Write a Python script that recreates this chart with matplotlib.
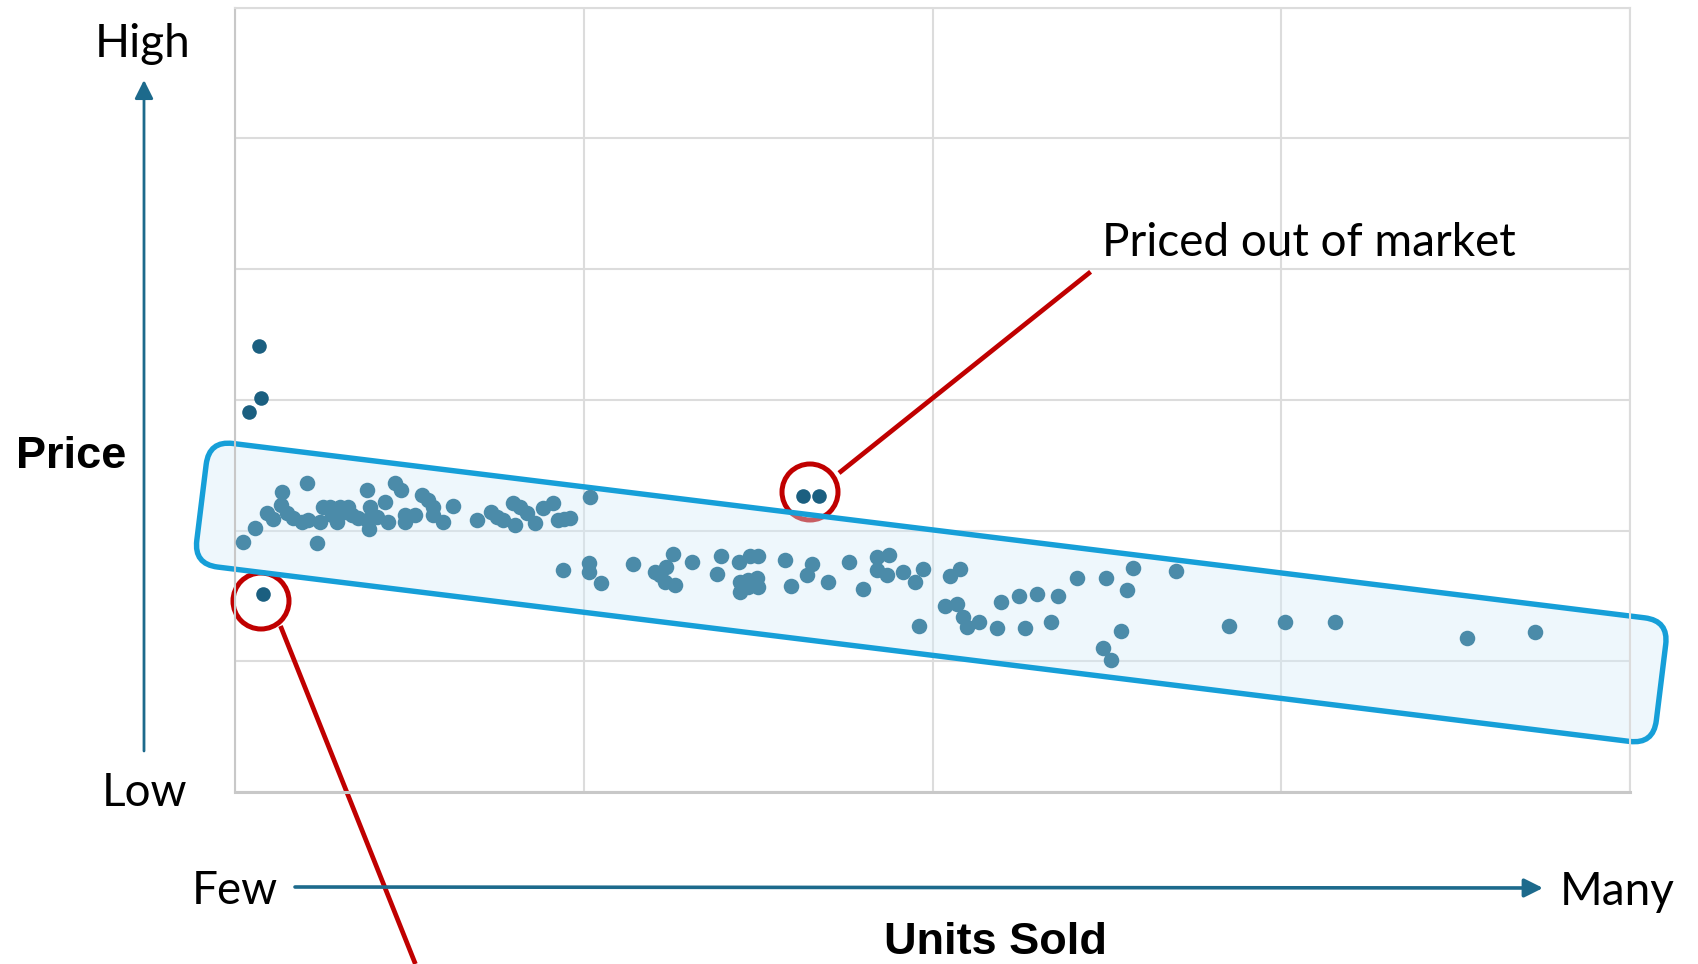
import matplotlib.pyplot as plt
from matplotlib.patches import FancyBboxPatch, Circle
from matplotlib.transforms import Affine2D

# units sold (0-100) and price (0-60)
units = [0.55, 1.43, 2.26, 2.69, 3.37, 3.30, 3.71, 4.18, 4.78, 5.14, 5.25, 5.86, 6.09, 6.33,
         6.81, 6.93, 7.29, 7.53, 7.88, 8.12, 8.37, 8.84, 9.44, 9.44, 9.68, 9.61, 10.16, 10.75,
         10.97, 11.47, 11.90, 12.19, 12.19, 12.90, 13.40, 13.80, 14.19, 14.21, 14.93, 15.63,
         17.33, 18.35, 18.76, 19.23, 19.95, 20.07, 20.43, 20.91, 21.50, 22.10, 22.82, 23.17,
         23.58, 24.01, 25.48,
         23.49, 25.35, 25.35, 26.21, 28.51, 30.11, 30.46, 30.89, 30.82, 31.40, 31.54, 32.78,
         34.53, 34.81, 36.13, 36.92, 37.51, 36.20, 36.20, 36.79, 37.40, 37.51, 36.79, 39.43,
         39.84, 40.98, 41.33, 42.54, 43.99, 45.00, 46.00, 46.88, 46.00, 46.74, 47.85, 48.75,
         49.32, 51.29, 51.94, 49.00, 50.88, 51.76, 52.21, 52.46, 53.30, 54.61, 54.90, 56.17,
         56.63, 57.46, 58.48, 59.03, 60.36, 62.47, 62.23, 62.81, 63.51, 63.92, 64.35, 67.49,
         71.23, 75.25, 78.83, 88.32, 93.18]
price = [19.12, 20.17, 21.32, 20.88, 22.97, 21.95, 21.32, 20.93, 20.67, 23.61, 20.80, 19.01,
         20.67, 21.82, 21.82, 21.18, 20.67, 21.82, 21.44, 21.82, 21.18, 20.93, 23.10, 20.80,
         21.82, 20.11, 21.06, 22.20, 20.67, 23.61, 23.10, 21.18, 20.67, 21.18, 22.71, 22.33,
         21.82, 21.18, 20.67, 21.87, 20.80, 21.44, 21.06, 20.80, 22.08, 20.42, 21.82, 21.32,
         20.55, 21.70, 22.08, 20.80, 20.88, 20.93, 22.60,
         16.98, 17.49, 16.83, 16.02, 17.41, 16.85, 16.60, 17.23, 16.08, 18.20, 15.83, 17.57,
         16.65, 18.05, 17.57, 18.05, 18.05, 16.08, 15.32, 16.21, 16.34, 15.70, 15.70, 17.74,
         15.75, 16.63, 17.42, 16.04, 17.59, 15.53, 17.95, 18.10, 16.98, 16.63, 16.85, 16.06,
         17.02, 16.50, 17.02, 12.73, 14.20, 14.36, 13.35, 12.62, 13.00, 12.58, 14.51, 14.97,
         12.58, 15.13, 12.98, 14.96, 16.34, 16.34, 10.99, 10.10, 12.30, 15.43, 17.11, 16.94,
         12.68, 12.98, 12.98, 11.75, 12.22]

# outliers drawn darker
out_units = [1.72, 1.86, 0.98, 2.03, 40.74, 41.89]
out_price = [34.13, 30.13, 29.06, 15.18, 22.66, 22.66]

W, H = 1698, 964
fig = plt.figure(figsize=(W / 100, H / 100), dpi=100)
ax = fig.add_axes([235 / W, 1 - 792 / H, 1395 / W, 784.5 / H])
ax.set_xlim(0, 100)
ax.set_ylim(0, 60)
ax.set_xticks([0, 25, 50, 75, 100])
ax.set_yticks([0, 10, 20, 30, 40, 50, 60])
ax.tick_params(length=0, labelbottom=False, labelleft=False)
ax.set_axisbelow(True)
ax.grid(True, color='#dcdcdc', lw=1.5)
for s in ax.spines.values():
    s.set_color('#dcdcdc')
    s.set_linewidth(1.5)
ax.spines['left'].set_color('#c8c8c8')
ax.spines['bottom'].set_color('#c8c8c8')
ax.spines['bottom'].set_linewidth(2.2)

# pixel coords, origin top-left
px = Affine2D().scale(1 / W, -1 / H).translate(0, 1) + fig.transFigure

# tilted band
cx, cy, L, Wd, ang = 931.25, 592.45, 1470.6, 124.5, 7.04
red = '#c00000'
ax.add_patch(Circle((810, 492), 28, transform=px, fill=False, ec=red, lw=3.6,
                    clip_on=False, zorder=1.4))
ax.add_patch(Circle((261, 601), 28, transform=px, fill=False, ec=red, lw=3.6,
                    clip_on=False, zorder=1.4))
band = FancyBboxPatch((cx - L / 2, cy - Wd / 2), L, Wd,
                      boxstyle='round,pad=0,rounding_size=24',
                      transform=Affine2D().rotate_deg_around(cx, cy, ang) + px,
                      fc=(214 / 255, 236 / 255, 249 / 255, 0.4), ec='#169fd8', lw=3.9,
                      clip_on=False, zorder=1.5)
ax.add_patch(band)

ax.scatter(units, price, s=125, color='#4b8ba9', lw=0, zorder=3)
ax.scatter(out_units, out_price, s=110, color='#1b5f80', lw=0, zorder=3)

ax.plot([839, 1090.6], [473, 271.8], color=red, lw=3.4, transform=px, clip_on=False,
        solid_capstyle='butt')
ax.plot([280.5, 415.4], [626, 964], color=red, lw=3.4, transform=px, clip_on=False,
        solid_capstyle='butt')

arr = dict(arrowstyle='-|>', color='#1d6a8c', lw=2, mutation_scale=28, shrinkA=0, shrinkB=0)
ax.annotate('', xy=(144, 80), xytext=(144, 751), xycoords=px, textcoords=px,
            arrowprops=arr, annotation_clip=False)
ax.annotate('', xy=(1543, 888), xytext=(295, 887), xycoords=px, textcoords=px,
            arrowprops=dict(arr, lw=2.6), annotation_clip=False)

lab = dict(transform=px, fontsize=33, family='Lato', va='center')
fig.text(143, 44, 'High', ha='center', **lab)
fig.text(145, 793, 'Low', ha='center', **lab)
fig.text(235, 891, 'Few', ha='center', **lab)
fig.text(1617, 892, 'Many', ha='center', **lab)
fig.text(1102, 243, 'Priced out of market', ha='left', **lab)
bold = dict(transform=px, fontsize=32.5, family='Liberation Sans', weight='bold', va='center')
fig.text(71, 457, 'Price', ha='center', **bold)
fig.text(996, 942, 'Units Sold', ha='center', **bold)

fig.savefig('out.png', dpi=100)
